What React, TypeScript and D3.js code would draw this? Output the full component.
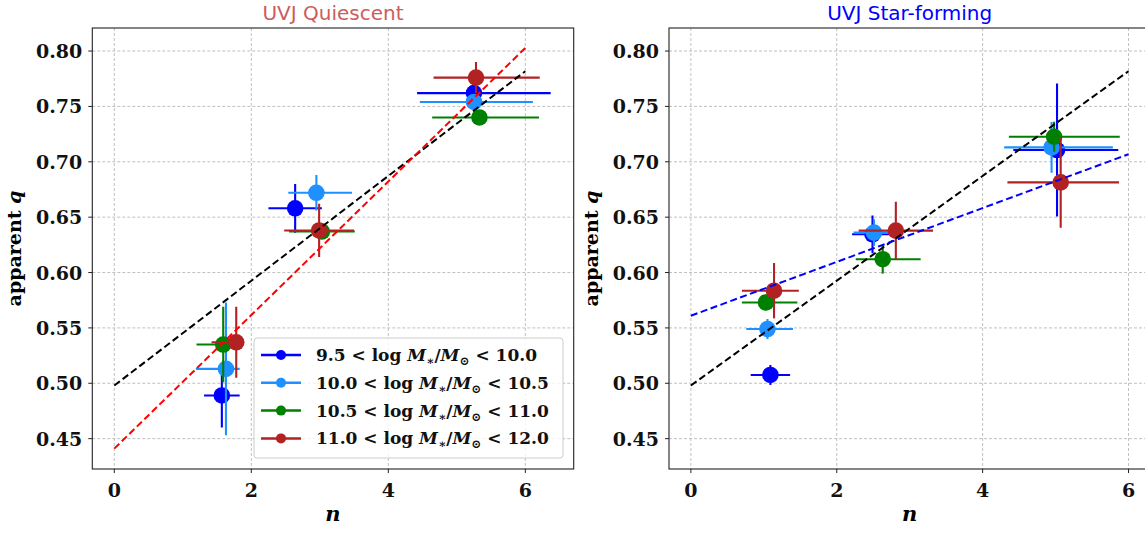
import React from 'react';
import * as d3 from 'd3';

// mass bins (legend)
const binLo = ['9.5', '10.0', '10.5', '11.0'];
const binHi = ['10.0', '10.5', '11.0', '12.0'];
const binColors = ['blue', 'dodgerblue', 'green', 'firebrick'];

// UVJ quiescent: one row per mass bin, three Sersic-index groups
const quiN = [
  [1.57, 2.64, 5.25],
  [1.63, 2.95, 5.25],
  [1.59, 3.03, 5.33],
  [1.78, 2.99, 5.28],
];
const quiQ = [
  [0.489, 0.658, 0.762],
  [0.513, 0.672, 0.754],
  [0.535, 0.637, 0.74],
  [0.537, 0.638, 0.776],
];
const quiNErrLo = [
  [0.26, 0.39, 0.83],
  [0.44, 0.41, 0.79],
  [0.39, 0.48, 0.69],
  [0.36, 0.51, 0.62],
];
const quiNErrHi = [
  [0.26, 0.39, 1.12],
  [0.2, 0.52, 0.86],
  [0.3, 0.48, 0.87],
  [0.1, 0.51, 0.93],
];
const quiQErr = [
  [0.029, 0.022, 0.006],
  [0.06, 0.016, 0.006],
  [0.034, 0.006, 0.006],
  [0.032, 0.024, 0.014],
];

// UVJ star-forming
const sfN = [
  [1.09, 2.49, 5.02],
  [1.05, 2.51, 4.945],
  [1.03, 2.63, 4.98],
  [1.14, 2.81, 5.07],
];
const sfQ = [
  [0.5075, 0.6345, 0.7106],
  [0.549, 0.636, 0.713],
  [0.573, 0.612, 0.7226],
  [0.5836, 0.6378, 0.6814],
];
const sfNErrLo = [
  [0.27, 0.28, 0.6],
  [0.29, 0.28, 0.65],
  [0.33, 0.37, 0.62],
  [0.44, 0.51, 0.73],
];
const sfNErrHi = [
  [0.27, 0.28, 0.84],
  [0.35, 0.28, 0.84],
  [0.43, 0.52, 0.9],
  [0.34, 0.51, 0.8],
];
const sfQErr = [
  [0.009, 0.017, 0.06],
  [0.009, 0.012, 0.023],
  [0.007, 0.013, 0.0135],
  [0.025, 0.026, 0.041],
];

// linear fits q = a + b*n
const fitAllA = 0.498;
const fitAllB = 0.0473;
const fitQuiA = 0.441;
const fitQuiB = 0.0603;
const fitSfA = 0.561;
const fitSfB = 0.0243;
const fitRange = [0, 6];

const xTicks = [0, 2, 4, 6];
const yTicks = [0.45, 0.5, 0.55, 0.6, 0.65, 0.7, 0.75, 0.8];

const serif = 'DejaVu Serif, serif';
const sans = 'DejaVu Sans, sans-serif';

const top = 28,
  bottom = 469,
  axW = 481.4;

const Panel = (props) => {
  const { id, left, xDomain, n, q, errLo, errHi, qErr, fits, title, titleColor, legend } = props;
  const x = d3.scaleLinear().domain(xDomain).range([left, left + axW]);
  const y = d3.scaleLinear().domain([0.4226, 0.8208]).range([bottom, top]);
  const fmt = d3.format('.2f');
  const line = d3
    .line()
    .x((d) => x(d[0]))
    .y((d) => y(d[1]));
  const cx = left + axW / 2;

  return (
    <g>
      <defs>
        <clipPath id={'clip' + id}>
          <rect x={left} y={top} width={axW} height={bottom - top} />
        </clipPath>
      </defs>
      {/* grid */}
      <g stroke="#b0b0b0" strokeWidth={0.8} strokeDasharray="3,2">
        {xTicks.map((t) => (
          <line key={'gx' + t} x1={x(t)} x2={x(t)} y1={top} y2={bottom} />
        ))}
        {yTicks.map((t) => (
          <line key={'gy' + t} x1={left} x2={left + axW} y1={y(t)} y2={y(t)} />
        ))}
      </g>
      {/* errorbars */}
      <g clipPath={`url(#clip${id})`}>
        {n.map((row, i) =>
          row.map((v, j) => (
            <g key={i + '-' + j} stroke={binColors[i]} strokeWidth={2.1}>
              <line x1={x(v - errLo[i][j])} x2={x(v + errHi[i][j])} y1={y(q[i][j])} y2={y(q[i][j])} />
              <line x1={x(v)} x2={x(v)} y1={y(q[i][j] - qErr[i][j])} y2={y(q[i][j] + qErr[i][j])} />
              <circle cx={x(v)} cy={y(q[i][j])} r={8.3} fill={binColors[i]} stroke="none" />
            </g>
          )),
        )}
        {fits.map((f, k) => (
          <path
            key={k}
            d={line(fitRange.map((t) => [t, f.a + f.b * t]))}
            fill="none"
            stroke={f.color}
            strokeWidth={2}
            strokeDasharray="7,3.5"
          />
        ))}
      </g>
      {/* frame */}
      <rect x={left} y={top} width={axW} height={bottom - top} fill="none" stroke="#222" strokeWidth={1.1} />
      {/* ticks */}
      <g fontFamily={serif} fontWeight="bold" fontSize={19} fill="#111">
        {xTicks.map((t) => (
          <g key={'tx' + t}>
            <line x1={x(t)} x2={x(t)} y1={bottom} y2={bottom + 4} stroke="#222" />
            <text x={x(t)} y={497} textAnchor="middle">
              {t}
            </text>
          </g>
        ))}
        {yTicks.map((t) => (
          <g key={'ty' + t}>
            <line x1={left - 4} x2={left} y1={y(t)} y2={y(t)} stroke="#222" />
            <text x={left - 10} y={y(t) + 7} textAnchor="end">
              {fmt(t)}
            </text>
          </g>
        ))}
      </g>
      {/* labels */}
      <text x={cx} y={521} textAnchor="middle" fontFamily={serif} fontWeight="bold" fontStyle="italic" fontSize={21}>
        n
      </text>
      <text
        transform={`translate(${left - 71},${(top + bottom) / 2}) rotate(-90)`}
        textAnchor="middle"
        fontFamily={serif}
        fontWeight="bold"
        fontSize={19}
      >
        apparent <tspan fontStyle="italic">q</tspan>
      </text>
      <text x={cx} y={20} textAnchor="middle" fontFamily={sans} fontSize={20} fill={titleColor}>
        {title}
      </text>
      {legend && <Legend />}
    </g>
  );
};

const Legend = () => {
  const lx = 254,
    ly = 338,
    rowH = 27.8;
  return (
    <g>
      <rect x={lx} y={ly} width={309} height={120} rx={3} fill="white" fillOpacity={0.8} stroke="#cccccc" />
      {binColors.map((c, i) => {
        const yy = ly + 17 + i * rowH;
        return (
          <g key={c}>
            <line x1={261} x2={301} y1={yy} y2={yy} stroke={c} strokeWidth={2.5} />
            <circle cx={281} cy={yy} r={5} fill={c} />
            <text x={316} y={yy + 6} fontFamily={serif} fontWeight="bold" fontSize={17} fill="#111">
              {binLo[i]} &lt; log <tspan fontStyle="italic">M</tspan>
              <tspan fontSize={12} dy={4}>
                ∗
              </tspan>
              <tspan dy={-4}>/</tspan>
              <tspan fontStyle="italic">M</tspan>
              <tspan fontSize={12} dy={4}>
                ⊙
              </tspan>
              <tspan dy={-4}> &lt; {binHi[i]}</tspan>
            </text>
          </g>
        );
      })}
    </g>
  );
};

export default function App() {
  return (
    <svg width={1145} height={533} style={{ position: 'absolute', left: 0, top: 0, background: 'white' }}>
      <rect width={1145} height={533} fill="white" />
      <Panel
        id="q"
        left={92.3}
        xDomain={[-0.321, 6.706]}
        n={quiN}
        q={quiQ}
        errLo={quiNErrLo}
        errHi={quiNErrHi}
        qErr={quiQErr}
        fits={[
          { a: fitAllA, b: fitAllB, color: 'black' },
          { a: fitQuiA, b: fitQuiB, color: 'red' },
        ]}
        title="UVJ Quiescent"
        titleColor="#cd5c5c"
        legend
      />
      <Panel
        id="sf"
        left={669}
        xDomain={[-0.3, 6.3]}
        n={sfN}
        q={sfQ}
        errLo={sfNErrLo}
        errHi={sfNErrHi}
        qErr={sfQErr}
        fits={[
          { a: fitAllA, b: fitAllB, color: 'black' },
          { a: fitSfA, b: fitSfB, color: 'blue' },
        ]}
        title="UVJ Star-forming"
        titleColor="blue"
      />
    </svg>
  );
}
